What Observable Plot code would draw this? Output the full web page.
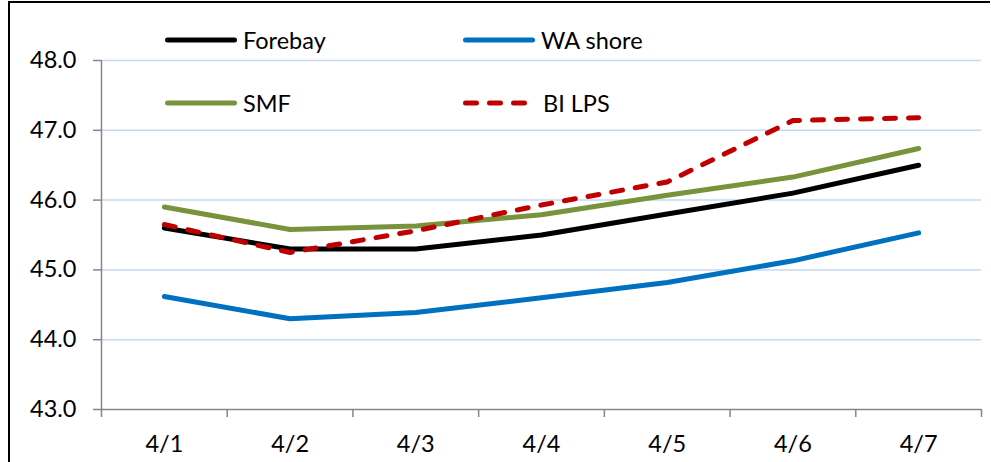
<!DOCTYPE html>
<html><head><meta charset="utf-8">
<script src="https://cdn.jsdelivr.net/npm/d3@7"></script>
<script src="https://cdn.jsdelivr.net/npm/@observablehq/plot@0.6"></script>
<style>
body{margin:0;background:#fff;}
#wrap{position:relative;width:991px;height:462px;overflow:hidden;font-family:Lato,sans-serif;background:#fff;}
#chart{position:absolute;left:0;top:0;}
#frame{position:absolute;left:8px;top:1px;width:980px;height:480px;border-left:2px solid #000;border-top:2px solid #000;pointer-events:none;}
.leg{position:absolute;display:flex;align-items:center;font-size:23.5px;color:#000;height:30px;line-height:30px;}
.leg svg{margin-right:4px;}
</style></head><body>
<div id="wrap"><div id="chart"></div><div id="frame"></div><div id="legend"></div></div>
<script>
const categories = ["4/1", "4/2", "4/3", "4/4", "4/5", "4/6", "4/7"];
const forebay = [45.6, 45.3, 45.3, 45.5, 45.8, 46.1, 46.5];
const waShore = [44.62, 44.3, 44.39, 44.6, 44.82, 45.13, 45.53];
const smf = [45.9, 45.58, 45.63, 45.79, 46.07, 46.33, 46.74];
const biLps = [45.65, 45.25, 45.56, 45.93, 46.26, 47.14, 47.18];
const yTicks = [43, 44, 45, 46, 47, 48];
const seriesNames = ["Forebay", "WA shore", "SMF", "BI LPS"];

const seriesStyles = [
  {stroke: "#000000", dash: null},
  {stroke: "#0070c0", dash: null},
  {stroke: "#77933c", dash: null},
  {stroke: "#c00000", dash: "11,13"}
];
const seriesValues = [forebay, waShore, smf, biLps];

const rows = seriesValues.map((vals, s) => vals.map((v, i) => ({series: seriesNames[s], i, cat: categories[i], value: v})));
const boundaries = d3.range(categories.length + 1).map(k => k - 0.5);
const centers = categories.map((c, i) => i);

const lineMarks = rows.map((data, s) => Plot.line(data, {
  x: "i", y: "value",
  stroke: seriesStyles[s].stroke,
  strokeWidth: 5,
  strokeLinecap: "round",
  strokeLinejoin: "round",
  strokeDasharray: seriesStyles[s].dash || undefined
}));

const chart = Plot.plot({
  width: 991,
  height: 462,
  marginLeft: 101,
  marginRight: 10,
  marginTop: 60,
  marginBottom: 53,
  style: {fontFamily: "Lato, sans-serif", fontSize: "23.5px", background: "transparent", overflow: "visible"},
  x: {type: "linear", domain: [-0.5, categories.length - 0.5]},
  y: {domain: [43, 48]},
  marks: [
    Plot.ruleY(yTicks.filter(t => t > 43), {stroke: "#c5d9f1", strokeWidth: 1.5}),
    Plot.axisY({ticks: yTicks, tickFormat: d => d.toFixed(1), tickSize: 8, tickPadding: 17, stroke: "#868686", strokeWidth: 1.5, fill: "#000", label: null, strokeOpacity: 1}),
    Plot.axisX({ticks: boundaries, tickFormat: () => "", tickSize: 8, stroke: "#868686", strokeWidth: 1.5, label: null, strokeOpacity: 1}),
    Plot.axisX({ticks: centers, tickFormat: i => categories[i], tickSize: 0, tickPadding: 26, fill: "#000", label: null}),
    Plot.ruleY([43], {stroke: "#868686", strokeWidth: 1.5}),
    Plot.ruleX([-0.5], {y1: 43, y2: 48, stroke: "#868686", strokeWidth: 1.5}),
    ...lineMarks
  ]
});
document.getElementById("chart").appendChild(chart);

// legend
const legendLayout = [
  {left: 163, top: 40}, {left: 461, top: 40},
  {left: 163, top: 103}, {left: 461, top: 103}
];
const legend = document.getElementById("legend");
seriesNames.forEach((name, s) => {
  const pos = legendLayout[s];
  const div = document.createElement("div");
  div.className = "leg";
  div.style.left = pos.left + "px";
  div.style.top = (pos.top - 15) + "px";
  const st = seriesStyles[s];
  const w = st.dash ? 70 : 76;
  const dashAttr = st.dash ? ` stroke-dasharray="${st.dash}"` : "";
  div.innerHTML = `<svg width="${w}" height="30"><line x1="4.5" x2="${w - 4.5}" y1="15" y2="15" stroke="${st.stroke}" stroke-width="5" stroke-linecap="round"${dashAttr}/></svg><span style="${st.dash ? 'margin-left:8px' : ''}">${name}</span>`;
  legend.appendChild(div);
});
</script>
</body></html>
